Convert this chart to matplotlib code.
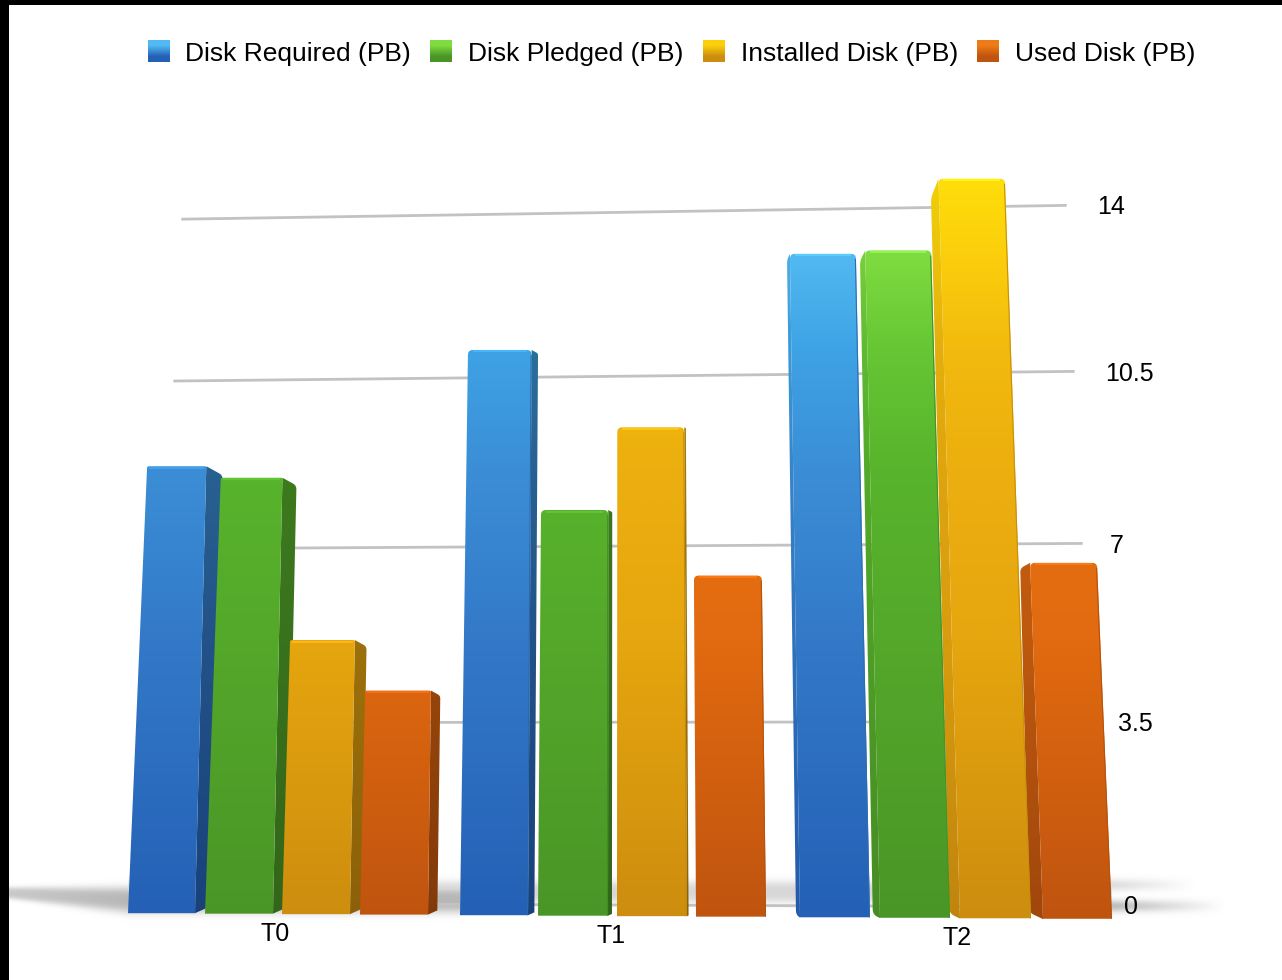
#!/usr/bin/env python3
"""Disk capacity per tier, drawn as perspective 3D-style bars."""
import matplotlib
matplotlib.use("Agg")
import matplotlib.pyplot as plt
import numpy as np
from matplotlib.patches import Polygon, Rectangle

# ─── Data ─────────────────────────────────────────────────────────────────────
TIERS = ["T0", "T1", "T2"]
SERIES = ["Disk Required (PB)", "Disk Pledged (PB)", "Installed Disk (PB)", "Used Disk (PB)"]
DISK_REQUIRED = [8.53, 10.92, 12.95]
DISK_PLEDGED = [8.31, 7.71, 13.03]
INSTALLED_DISK = [5.14, 9.37, 14.55]
USED_DISK = [4.18, 6.44, 6.73]
GRID_VALUES = [0, 3.5, 7, 10.5, 14]
GRID_LABELS = ["0", "3.5", "7", "10.5", "14"]

# ─── Layout (pixels of the 1282x980 canvas) ───────────────────────────────────
W, H = 1282, 980
CX = 624.0
A, B = 53.2, 0.00537     # vertical perspective of the value axis
BAR_K, BAR_BX = 1.03, 0.0047
GRID_Y0 = 905.0
GRID_HALF = 476.0
BAR_EDGES = [
    [(128, 195), (205, 273), (282, 350), (360, 428)],
    [(460, 528), (538, 608), (617, 687), (696, 766)],
    [(800, 870), (880, 950), (960, 1031), (1043, 1112)],
]
TICK_POS = {"0": (1131, 907), "3.5": (1135, 724), "7": (1117, 546), "10.5": (1129, 374), "14": (1111, 207)}
TIER_POS = [(275, 934), (611, 936), (957, 938)]
LEGEND_BOX_X = [148, 430, 703, 977]
LEGEND_TEXT_X = [185, 468, 741, 1015]

# colour stops: canvas y -> rgb, the same ramp for every bar of a series
RAMP_Y = [180, 255, 350, 470, 640, 920]
RAMPS = [
    ["#55bdf5", "#52b9f2", "#3ea3e4", "#3b8ed6", "#3379c8", "#2460b5"],
    ["#86e040", "#7fdc40", "#66c634", "#58b42c", "#54a82a", "#4a9527"],
    ["#ffdd0a", "#fbcf0c", "#f2ba0e", "#ecaf0f", "#e6a60f", "#cd8d0e"],
    ["#f08018", "#ee7c16", "#ea7414", "#e87012", "#e26a10", "#bf540f"],
]
FONT = "Liberation Sans"


def hex_rgb(c):
    return np.array([int(c[i:i + 2], 16) for i in (1, 3, 5)], dtype=float) / 255


def ramp_image(series, shade=1.0):
    ys = np.arange(H) + 0.5
    stops = np.array([hex_rgb(c) for c in RAMPS[series]])
    img = np.stack([np.interp(ys, RAMP_Y, stops[:, k]) for k in range(3)], axis=1)
    return np.clip(img[:, None, :] * shade, 0, 1)


def bar_point(x_base, y_base, v):
    x = CX + (x_base - CX) / (1 + BAR_BX * v)
    y = y_base - BAR_K * A * v / (1 + B * v)
    return x, y


def base_y(x):
    return 912.2 + 0.0061 * x


def grid_point(sign, v):
    half = GRID_HALF / (1 + B * v)
    x = CX + sign * half
    return x, GRID_Y0 - A * v / (1 + B * v) + sign * half * (0.004 - 0.0014 * v)


def rounded(points, radii):
    out = []
    n = len(points)
    for i, (p, r) in enumerate(zip(points, radii)):
        p = np.array(p, float)
        if r <= 0:
            out.append(p)
            continue
        a = np.array(points[i - 1], float)
        b = np.array(points[(i + 1) % n], float)
        u = p + (a - p) / np.linalg.norm(a - p) * r
        w = p + (b - p) / np.linalg.norm(b - p) * r
        for t in np.linspace(0, 1, 7):
            out.append((1 - t) ** 2 * u + 2 * t * (1 - t) * p + t ** 2 * w)
    return np.array(out)


def fill_ramp(ax, pts, series, shade, zorder):
    xs, ys = pts[:, 0], pts[:, 1]
    im = ax.imshow(ramp_image(series, shade), extent=(xs.min(), xs.max(), H, 0),
                   aspect="auto", zorder=zorder, interpolation="bilinear")
    clip = Polygon(pts, closed=True, transform=ax.transData, fc="none", ec="none")
    ax.add_patch(clip)
    im.set_clip_path(clip)


def draw_bar(ax, xl, xr, v, series, z):
    yb = base_y((xl + xr) / 2)
    tlx, top = bar_point(xl, yb, v)
    trx, _ = bar_point(xr, yb, v)

    # side face, turned towards the camera's axis (none on the bar facing it)
    if xr < 740:
        d = (740 - xr) * 0.03
        trx -= 0.0023 * d ** 2 * v
        side = rounded([(xr, yb), (trx, top), (trx + d, top + 0.55 * d), (xr + d, yb - 0.45 * d)],
                       [0, 0, min(d * 0.3, 4), 0])
        fill_ramp(ax, side, series, 0.68, z)
    elif xl > 700:
        d = (xl - 700) * 0.04
        dt = d * 0.72
        side = rounded([(xl, yb + 0.3), (tlx, top), (tlx - dt, top + 0.012 * v ** 2 * dt), (xl - d, yb - 0.45 * d)],
                       [0, 0, 4, 5])
        fill_ramp(ax, side, series, 0.94 if series < 3 else 0.84, z)

    r = 5 if xl > 440 else 2
    front = rounded([(xl, yb), (xr, yb), (trx, top), (tlx, top)], [0, 0, r, r])
    fill_ramp(ax, front, series, 1.0, z + 0.1)
    # bright rim along the top edge, darker rim down the right one
    rim = np.clip(ramp_image(series, 1.12)[int(top)][0], 0, 1)
    ax.plot([tlx + r, trx - r], [top + 1.5, top + 1.5], color=rim, lw=1.4, zorder=z + 0.2, solid_capstyle="butt")
    if xl > 440:
        edge = ramp_image(series, 0.85)[(int(top) + int(yb)) // 2][0]
        ax.plot([trx - 0.5, xr - 0.5], [top + r, yb], color=edge, lw=0.8, zorder=z + 0.2, solid_capstyle="butt")


def draw_shadow(ax):
    xx, yy = np.meshgrid(np.arange(W) + 0.5, np.arange(860, 930) + 0.5)
    # left wedge
    t = np.clip((xx - 10) / 118, 0, 1)
    yc = 893 + 7 * t
    hw = 6 + 7 * t
    left = np.exp(-np.abs((yy - yc) / hw) ** 3) * (xx > 9) * (xx < 460) * (0.75 + 0.25 * t)
    # band behind the bars
    mid = 0.55 * np.exp(-np.abs((yy - 892) / 11) ** 3) * (xx > 128) * (xx < 1112)
    # right bands, fading out
    fade = np.clip((1225 - xx) / 110, 0, 1)
    low = 0.9 * np.exp(-np.abs((yy - 906) / 6) ** 2) * fade * (xx > 1000)
    fade2 = np.clip((1195 - xx) / 80, 0, 1)
    high = 0.45 * np.exp(-np.abs((yy - 885) / 6) ** 2) * fade2 * (xx > 1000)
    alpha = np.clip(np.maximum.reduce([left, mid, low, high]), 0, 1)
    img = np.zeros(alpha.shape + (4,))
    img[..., :3] = 0.72
    img[..., 3] = alpha
    ax.imshow(img, extent=(0, W, 930, 860), aspect="auto", zorder=1, interpolation="bilinear")


def main():
    fig = plt.figure(figsize=(W / 100, H / 100), dpi=100, facecolor="white")
    ax = fig.add_axes([0, 0, 1, 1])
    ax.axis("off")

    draw_shadow(ax)

    for v, label in zip(GRID_VALUES, GRID_LABELS):
        x0, y0 = grid_point(-1, v)
        x1, y1 = grid_point(1, v)
        ax.plot([x0, x1], [y0, y1], color="#c2c2c2", lw=2.0, zorder=2, solid_capstyle="butt")
        tx, ty = TICK_POS[label]
        ax.text(tx, ty, label, ha="center", va="center", fontsize=18, family=FONT, color="black", zorder=6)

    values = [DISK_REQUIRED, DISK_PLEDGED, INSTALLED_DISK, USED_DISK]
    for t, edges in enumerate(BAR_EDGES):
        for s, (xl, xr) in enumerate(edges):
            draw_bar(ax, xl, xr, values[s][t], s, 3 + t * 0.1 + s * 0.02)

    for name, (tx, ty) in zip(TIERS, TIER_POS):
        ax.text(tx, ty, name, ha="center", va="center", fontsize=18, family=FONT, color="black", zorder=6)

    for s, name in enumerate(SERIES):
        bx = LEGEND_BOX_X[s]
        ramp = np.stack([hex_rgb(RAMPS[s][1]), hex_rgb(RAMPS[s][5])])[:, None, :]
        ax.imshow(ramp, extent=(bx, bx + 22, 62, 40), aspect="auto", zorder=6, interpolation="bilinear")
        ax.text(LEGEND_TEXT_X[s], 54, name, ha="left", va="center", fontsize=19, family=FONT,
                color="black", zorder=6)

    # black strips left by the transparent background of the source image
    ax.add_patch(Rectangle((0, 0), W, 5, fc="black", ec="none", zorder=8))
    ax.add_patch(Rectangle((0, 0), 9, H, fc="black", ec="none", zorder=8))

    ax.set_xlim(0, W)
    ax.set_ylim(H, 0)
    fig.savefig("out.png", dpi=100)
    plt.close(fig)


if __name__ == "__main__":
    main()
